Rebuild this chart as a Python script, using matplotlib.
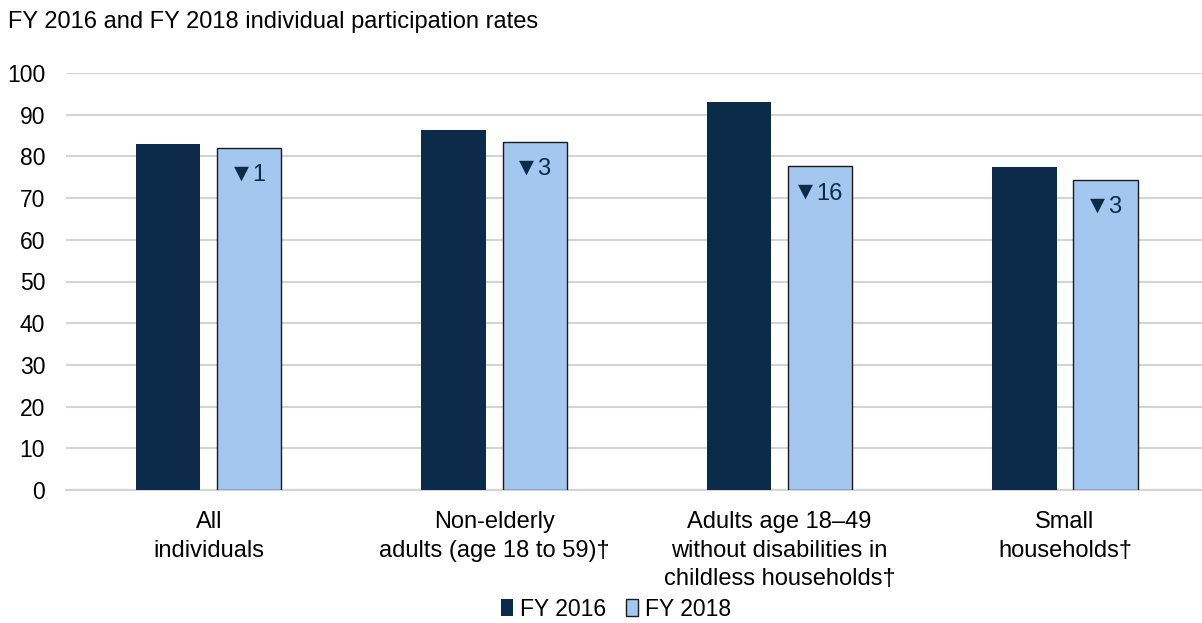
import matplotlib
matplotlib.use("Agg")
import matplotlib.pyplot as plt
from matplotlib.patches import Patch
import numpy as np

categories = ["All\nindividuals",
              "Non-elderly\nadults (age 18 to 59)\u2020",
              "Adults age 18\u201349\nwithout disabilities in\nchildless households\u2020",
              "Small\nhouseholds\u2020"]
fy2016 = [83.0, 86.4, 93.0, 77.4]
fy2018 = [82.0, 83.5, 77.6, 74.3]
changes = ["1", "3", "16", "3"]
yticks = [0, 10, 20, 30, 40, 50, 60, 70, 80, 90, 100]
series_names = ["FY 2016", "FY 2018"]
title = "FY 2016 and FY 2018 individual participation rates"

plt.rcParams['font.family'] = ['Liberation Sans', 'DejaVu Sans']

dark = "#0c2a4a"
light = "#a3c7ef"

W, H = 1202, 623
fig = plt.figure(figsize=(W/100, H/100), dpi=100)
left = 66/W
ax = fig.add_axes([left, (H-490)/H, 1.0-left, (490-73)/H])

x = np.arange(len(categories))
bw = 0.225
off = 0.142
ax.bar(x - off, fy2016, bw, color=dark, zorder=3, linewidth=0)
ax.bar(x + off, fy2018, bw, color=light, edgecolor="#1a1a1a", linewidth=1.0, zorder=3)

num_fs = 17
tri_fs = 14
tri_w = 0.77 * tri_fs
gap = 2.5
for xi, v, t in zip(x, fy2018, changes):
    num_w = 0.556 * num_fs * len(t)
    total = tri_w + gap + num_w
    lx = -total / 2
    ax.annotate("\u25bc", xy=(xi + off, v - 6.5), xytext=(lx, 1.5), textcoords="offset points",
                ha="left", va="center", fontsize=tri_fs, family="DejaVu Sans",
                color=dark, zorder=4)
    ax.annotate(t, xy=(xi + off, v - 6.5), xytext=(lx + tri_w + gap, 0), textcoords="offset points",
                ha="left", va="center", fontsize=num_fs, color=dark, zorder=4)

ax.set_ylim(0, 100)
ax.set_xlim(-0.5, 3.5 - 0.02)
ax.set_yticks(yticks)
ax.yaxis.grid(True, color="#d4d4d4", linewidth=1.5, zorder=0)
ax.set_axisbelow(True)
for s in ["left", "right", "top"]:
    ax.spines[s].set_visible(False)
ax.spines["bottom"].set_color("#d4d4d4")
ax.spines["bottom"].set_linewidth(1.5)
ax.tick_params(axis="y", length=0, labelsize=16.5, pad=15, colors="#000000")
ax.tick_params(axis="x", length=0, labelsize=17, pad=15)
ax.set_xticks(x)
ax.set_xticklabels(categories, linespacing=1.4)

fig.text(8/W, 1 - 22/H, title, fontsize=17, ha="left", va="center")

handles = [Patch(facecolor=dark, edgecolor="none"),
           Patch(facecolor=light, edgecolor="#1a1a1a", linewidth=1.0)]
fig.legend(handles, series_names, loc="center", bbox_to_anchor=(616/W, 1 - 609/H),
           ncol=2, frameon=False, fontsize=16.5, handlelength=0.5, handleheight=0.7,
           handletextpad=0.3, columnspacing=0.9)

fig.savefig("out.png", dpi=100)
